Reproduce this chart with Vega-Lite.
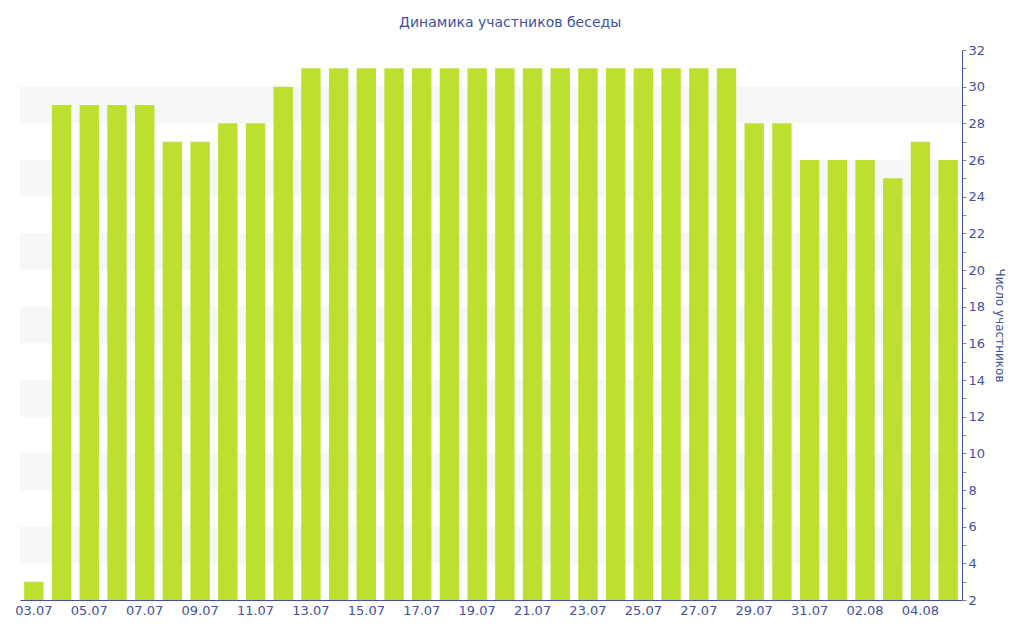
{
  "$schema": "https://vega.github.io/schema/vega-lite/v6.json",
  "width": 942,
  "height": 550,
  "padding": {"left": 14, "top": 16, "right": 0, "bottom": 0},
  "background": "white",
  "title": {
    "text": "Динамика участников беседы",
    "font": "DejaVu Sans",
    "fontSize": 14,
    "fontWeight": "normal",
    "color": "#3f51a0",
    "anchor": "middle",
    "frame": "bounds",
    "offset": 14
  },
  "datasets": {
    "stripes": [
      {"lo": 4, "hi": 6},
      {"lo": 8, "hi": 10},
      {"lo": 12, "hi": 14},
      {"lo": 16, "hi": 18},
      {"lo": 20, "hi": 22},
      {"lo": 24, "hi": 26},
      {"lo": 28, "hi": 30}
    ],
    "members": [
      {"day": "03.07", "count": 3},
      {"day": "04.07", "count": 29},
      {"day": "05.07", "count": 29},
      {"day": "06.07", "count": 29},
      {"day": "07.07", "count": 29},
      {"day": "08.07", "count": 27},
      {"day": "09.07", "count": 27},
      {"day": "10.07", "count": 28},
      {"day": "11.07", "count": 28},
      {"day": "12.07", "count": 30},
      {"day": "13.07", "count": 31},
      {"day": "14.07", "count": 31},
      {"day": "15.07", "count": 31},
      {"day": "16.07", "count": 31},
      {"day": "17.07", "count": 31},
      {"day": "18.07", "count": 31},
      {"day": "19.07", "count": 31},
      {"day": "20.07", "count": 31},
      {"day": "21.07", "count": 31},
      {"day": "22.07", "count": 31},
      {"day": "23.07", "count": 31},
      {"day": "24.07", "count": 31},
      {"day": "25.07", "count": 31},
      {"day": "26.07", "count": 31},
      {"day": "27.07", "count": 31},
      {"day": "28.07", "count": 31},
      {"day": "29.07", "count": 28},
      {"day": "30.07", "count": 28},
      {"day": "31.07", "count": 26},
      {"day": "01.08", "count": 26},
      {"day": "02.08", "count": 26},
      {"day": "03.08", "count": 25},
      {"day": "04.08", "count": 27},
      {"day": "05.08", "count": 26}
    ]
  },
  "layer": [
    {
      "data": {"name": "stripes"},
      "mark": {"type": "rect", "color": "#f7f7f7"},
      "encoding": {
        "y": {
          "field": "lo",
          "type": "quantitative",
          "scale": {"domain": [2, 32], "nice": false, "zero": false},
          "title": "Число участников",
          "axis": {
            "orient": "right",
            "values": [2, 3, 4, 5, 6, 7, 8, 9, 10, 11, 12, 13, 14, 15, 16, 17, 18, 19, 20, 21, 22, 23, 24, 25, 26, 27, 28, 29, 30, 31, 32],
            "labelExpr": "datum.value % 2 == 0 ? datum.label : ''",
            "labelOverlap": false,
            "labelBound": false,
            "labelFlush": false,
            "titlePadding": 8,
            "grid": false
          }
        },
        "y2": {"field": "hi"}
      }
    },
    {
      "data": {"name": "members"},
      "mark": {"type": "bar", "color": "#bde030", "clip": true},
      "encoding": {
        "x": {
          "field": "day",
          "type": "ordinal",
          "sort": null,
          "title": null,
          "scale": {"paddingInner": 0.3, "paddingOuter": 0.15},
          "axis": {
            "values": ["03.07", "05.07", "07.07", "09.07", "11.07", "13.07", "15.07", "17.07", "19.07", "21.07", "23.07", "25.07", "27.07", "29.07", "31.07", "02.08", "04.08"],
            "labelAngle": 0,
            "ticks": false,
            "labelPadding": 4
          }
        },
        "y": {
          "field": "count",
          "type": "quantitative",
          "scale": {"domain": [2, 32], "nice": false, "zero": false},
          "title": "Число участников",
          "axis": {
            "orient": "right",
            "values": [2, 3, 4, 5, 6, 7, 8, 9, 10, 11, 12, 13, 14, 15, 16, 17, 18, 19, 20, 21, 22, 23, 24, 25, 26, 27, 28, 29, 30, 31, 32],
            "labelExpr": "datum.value % 2 == 0 ? datum.label : ''",
            "labelOverlap": false,
            "labelBound": false,
            "labelFlush": false,
            "titlePadding": 8,
            "grid": false
          }
        }
      }
    }
  ],
  "config": {
    "view": {"stroke": null},
    "font": "DejaVu Sans",
    "axis": {
      "labelFont": "DejaVu Sans",
      "labelFontSize": 13,
      "labelColor": "#3f51a0",
      "titleFont": "DejaVu Sans",
      "titleFontSize": 12,
      "titleFontWeight": "normal",
      "titleColor": "#3f51a0",
      "domainColor": "#3f51a0",
      "tickColor": "#8a8a8a",
      "tickSize": 4,
      "labelPadding": 2
    }
  }
}
